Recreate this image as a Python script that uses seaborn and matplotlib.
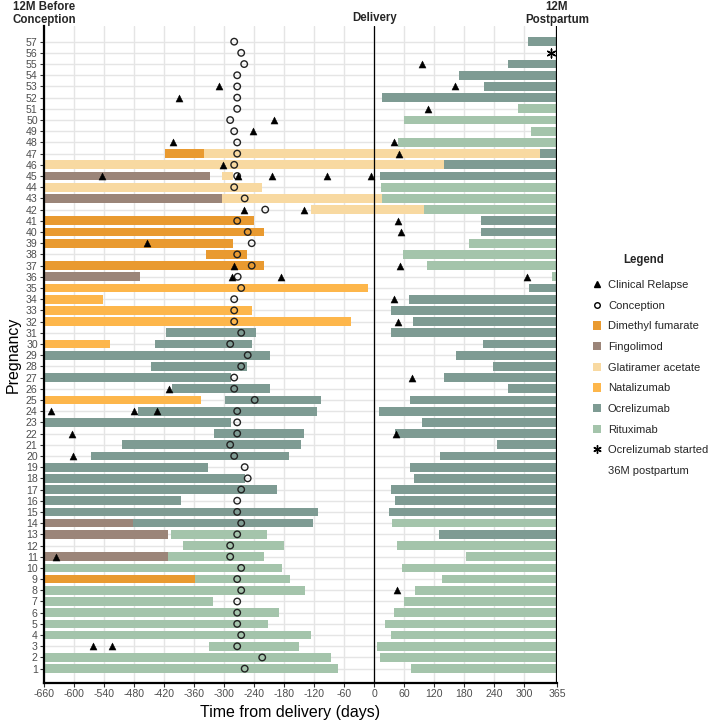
import numpy as np
import pandas as pd
import matplotlib
matplotlib.use("Agg")
import matplotlib.pyplot as plt
import matplotlib.transforms as mtrans
from matplotlib.lines import Line2D
from matplotlib.patches import Patch
import seaborn as sns

# ---------------- data ----------------
drug_names = ["Dimethyl fumarate", "Fingolimod", "Glatiramer acetate",
              "Natalizumab", "Ocrelizumab", "Rituximab"]
drug_colors = ["#E99A30", "#9B8579", "#F8D9A1", "#FDB64B", "#7E9B93", "#A4C4AB"]

# treatment segments: row, drug code, start day, end day
seg_row = [57, 55, 54, 53, 52, 51, 50, 49, 48,
           47, 47, 47, 46, 46, 45, 45, 45, 44, 44, 43, 43, 43, 42, 42,
           41, 41, 40, 40, 39, 39, 38, 38, 37, 37, 36, 36,
           35, 35, 34, 34, 33, 33, 32, 32, 31, 31, 30, 30, 30,
           29, 29, 28, 28, 27, 27, 26, 26, 25, 25, 25, 24, 24, 23, 23,
           22, 22, 21, 21, 20, 20, 19, 19, 18, 18, 17, 17, 16, 16, 15, 15,
           14, 14, 14, 13, 13, 13, 12, 12, 11, 11, 11, 10, 10, 9, 9, 9,
           8, 8, 7, 7, 6, 6, 5, 5, 4, 4, 3, 3, 2, 2, 1, 1]
seg_drug = ["O", "O", "O", "O", "O", "R", "R", "R", "R",
            "D", "G", "O", "G", "O", "F", "G", "O", "G", "R", "F", "G", "R", "G", "R",
            "D", "O", "D", "O", "D", "R", "D", "R", "D", "R", "F", "R",
            "N", "O", "N", "O", "N", "O", "N", "O", "O", "O", "N", "O", "O",
            "O", "O", "O", "O", "O", "O", "O", "O", "N", "O", "O", "O", "O", "O", "O",
            "O", "O", "O", "O", "O", "O", "O", "O", "O", "O", "O", "O", "O", "O", "O", "O",
            "F", "O", "R", "F", "R", "O", "R", "R", "F", "R", "R", "R", "R", "D", "R", "R",
            "R", "R", "R", "R", "R", "R", "R", "R", "R", "R", "R", "R", "R", "R", "R", "R"]
seg_start = [308, 267, 170, 219, 16, 287, 60, 314, 48,
             -419, -341, 332, -660, 139, -660, -305, 11, -660, 14, -660, -305, 15, -126, 100,
             -660, 214, -660, 214, -660, 190, -337, 57, -660, 105, -660, 355,
             -660, 310, -660, 70, -660, 33, -660, 78, -417, 33, -660, -439, 218,
             -660, 163, -447, 238, -660, 139, -405, 267, -660, -299, 72, -472, 9, -660, 96,
             -321, 41, -505, 245, -567, 131, -660, 72, -660, 80, -660, 33, -660, 42, -660, 29,
             -660, -482, 35, -660, -407, 129, -383, 45, -660, -413, 184, -660, 56, -660, -359, 135,
             -660, 82, -660, 59, -660, 39, -660, 21, -660, 33, -330, 6, -660, 12, -660, 73]
seg_end = [365, 365, 365, 365, 365, 365, 365, 365, 365,
           -341, 332, 365, 139, 365, -329, -282, 365, -225, 365, -305, 15, 365, 100, 365,
           -240, 365, -220, 365, -282, 365, -255, 365, -220, 365, -469, 365,
           -13, 365, -542, 365, -245, 365, -46, 365, -237, 365, -528, -245, 365,
           -209, 365, -255, 365, -286, 365, -208, 365, -346, -106, 365, -115, 365, -287, 365,
           -141, 365, -147, 365, -171, 365, -332, 365, -259, 365, -194, 365, -387, 365, -112, 365,
           -482, -122, 365, -413, -214, 365, -180, 365, -413, -220, 365, -184, 365, -359, -168, 365,
           -139, 365, -322, 365, -190, 365, -213, 365, -126, 365, -151, 365, -87, 365, -72, 365]

# clinical relapses
relapse_row = [55, 53, 53, 52, 51, 50, 49, 48, 48, 47, 46,
               45, 45, 45, 45, 45, 42, 42, 41, 40, 39, 37, 37,
               36, 36, 36, 34, 32, 27, 26, 24, 24, 24, 22, 22, 20, 11, 8, 3, 3]
relapse_day = [95, -311, 162, -391, 107, -201, -242, -403, 40, 50, -302,
               -544, -273, -204, -95, -6, -261, -141, 48, 54, -455, -281, 52,
               -285, -186, 305, 39, 47, 76, -411, -647, -481, -434, -605, 43, -603, -636, 46, -562, -524]

# conception
concep_row = list(range(57, 0, -1))
concep_day = [-280, -266, -260, -274, -274, -274, -274, -288, -280, -274,
              -274, -280, -274, -280, -259, -218, -274, -253, -245, -274,
              -245, -273, -266, -280, -280, -280, -266, -288, -253, -266,
              -280, -280, -239, -274, -274, -274, -288, -280, -259, -253,
              -266, -274, -274, -266, -274, -288, -288, -266, -274, -266,
              -274, -274, -274, -266, -274, -224, -259]

# ocrelizumab started 36M postpartum
star_row = [56]
star_day = [353]

x_ticks = [-660, -600, -540, -480, -420, -360, -300, -240, -180, -120, -60,
           0, 60, 120, 180, 240, 300, 365]

# ---------------- style ----------------
sns.set_theme(style="whitegrid")
plt.rcParams["font.family"] = ["Liberation Sans", "DejaVu Sans"]

W, H = 709, 724
fig = plt.figure(figsize=(W / 100, H / 100), dpi=100)
ax_l, ax_r, ax_t, ax_b = 44, 557, 26, 683
ax = fig.add_axes([ax_l / W, 1 - ax_b / H, (ax_r - ax_l) / W, (ax_b - ax_t) / H])

code_map = {"D": 0, "F": 1, "G": 2, "N": 3, "O": 4, "R": 5}
seg = pd.DataFrame({"row": seg_row, "drug": seg_drug, "start": seg_start, "end": seg_end})
for _, r in seg.iterrows():
    c = drug_colors[code_map[r["drug"]]]
    ax.barh(r["row"], r["end"] - r["start"], left=r["start"], height=0.78,
            color=c, edgecolor="none", zorder=2)

rel = pd.DataFrame({"row": relapse_row, "day": relapse_day})
con = pd.DataFrame({"row": concep_row, "day": concep_day})
st = pd.DataFrame({"row": star_row, "day": star_day})

sns.scatterplot(data=con, x="day", y="row", marker="o", s=22, facecolor="none",
                edgecolor="#222222", linewidth=1.0, ax=ax, zorder=4)
sns.scatterplot(data=rel, x="day", y="row", marker="^", s=26, color="black",
                edgecolor="black", linewidth=0.3, ax=ax, zorder=5)
sns.scatterplot(data=st, x="day", y="row", marker=(6, 2, 0), s=40, color="black",
                edgecolor="black", linewidth=1.0, ax=ax, zorder=5)

ax.set_xlim(-660, 365)
ax.set_ylim(-0.28, 58.4)
ax.set_xticks(x_ticks)
ax.set_xticklabels([str(t) for t in x_ticks])
ax.set_yticks(range(1, 58))
ax.set_yticklabels([str(i) for i in range(1, 58)])
ax.tick_params(axis="both", labelsize=7.6, labelcolor="#4D4D4D", length=3,
               width=0.8, color="#333333", pad=1.5)
ax.tick_params(axis="x", bottom=True)
ax.tick_params(axis="y", left=True)
ax.grid(True, color="#E5E5E5", linewidth=1.0, zorder=0)
ax.set_axisbelow(True)
for s in ["top", "right"]:
    ax.spines[s].set_visible(False)
for s in ["left", "bottom"]:
    ax.spines[s].set_color("black")
    ax.spines[s].set_linewidth(1.6)

ax.axvline(0, color="black", linewidth=0.9, zorder=3)
ax.axvline(365, color="black", linewidth=1.6, zorder=6)

ax.set_xlabel("Time from delivery (days)", fontsize=11.5, color="black")
ax.xaxis.set_label_coords((290 - ax_l) / (ax_r - ax_l), -(712 - ax_b) / (ax_b - ax_t))
ax.xaxis.label.set_va("center")
ax.set_ylabel("Pregnancy", fontsize=11.5, color="black", labelpad=4)

# top annotations (x in data units, y in figure pixels from top)
trans = mtrans.blended_transform_factory(ax.transData, fig.transFigure)
top_labels = [(-660, "12M Before", 10), (-660, "Conception", 23.3),
              (0, "Delivery", 20.8),
              (365, "12M", 10), (365, "Postpartum", 23.3)]
for xv, txt, ypx in top_labels:
    ax.text(xv, 1 - ypx / H, txt, transform=trans, ha="center", va="baseline",
            fontsize=8.3, fontweight="bold", clip_on=False)

fig.text(644 / W, 1 - 260 / H, "Legend", ha="center", va="center",
         fontsize=8.3, fontweight="bold")

handles = [
    Line2D([], [], marker="^", color="black", linestyle="none", markersize=4.5),
    Line2D([], [], marker="o", markerfacecolor="none", markeredgecolor="black",
           linestyle="none", markersize=4, markeredgewidth=1.0),
]
for c in drug_colors:
    handles.append(Patch(facecolor=c, edgecolor="none"))
handles.append(Line2D([], [], marker=(6, 2, 0), color="black", linestyle="none",
                      markersize=6, markeredgewidth=1.0))
handles.append(Line2D([], [], linestyle="none", marker=None))
labels = ["Clinical Relapse", "Conception"] + drug_names + \
         ["Ocrelizumab started", "36M postpartum"]

leg = fig.legend(handles, labels, loc="upper left",
                 bbox_to_anchor=(593 / W, 1 - 280 / H), frameon=False,
                 fontsize=8.0, handlelength=0.75, handleheight=0.75,
                 handletextpad=0.6, labelspacing=0.96, borderpad=0.0,
                 borderaxespad=0.0)

fig.savefig("out.png", dpi=100)
